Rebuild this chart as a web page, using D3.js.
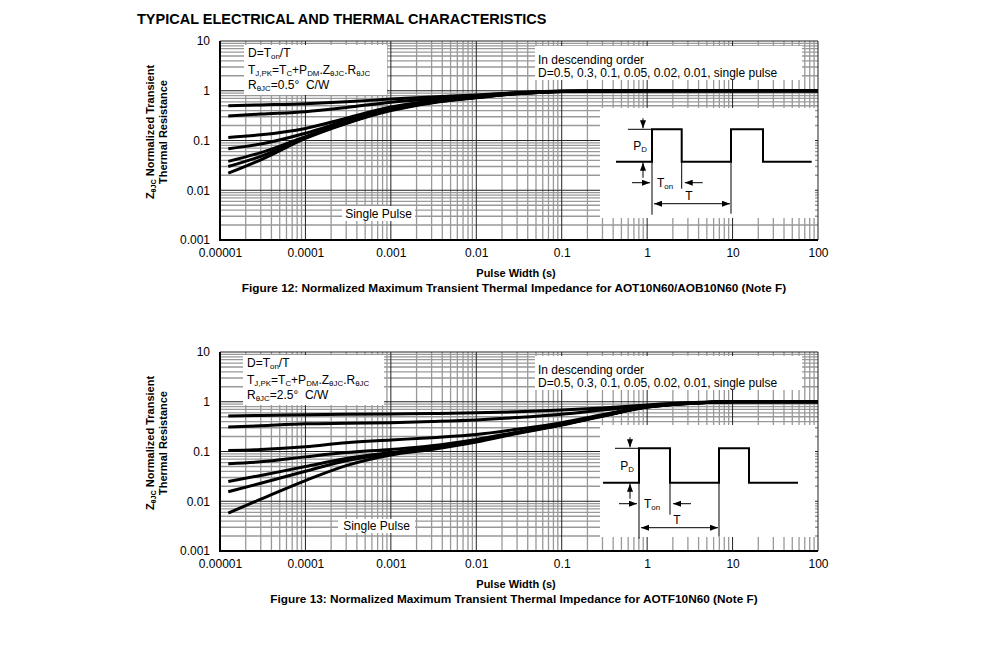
<!DOCTYPE html>
<html>
<head>
<meta charset="utf-8">
<script src="https://cdn.jsdelivr.net/npm/d3@7"></script>
<style>
  body { margin: 0; background: #fff; }
  svg text { font-family: "Liberation Sans", Arial, sans-serif; fill: #000; }
</style>
</head>
<body>
<svg id="chart" width="991" height="658"></svg>
<script>
// Duty cycles, in the order the curves are listed in the legend
const dutyCycles = ["0.5", "0.3", "0.1", "0.05", "0.02", "0.01", "single pulse"];

const timesAOT = [1.25e-5, 3e-5, 1e-4, 3e-4, 1e-3, 3e-3, 1e-2, 3e-2, 0.1, 1, 10, 100];
const timesAOTF = [1.25e-5, 3e-5, 1e-4, 3e-4, 1e-3, 3e-3, 1e-2, 3e-2, 0.1, 0.3, 1, 3, 10, 100];

// Figure 12: AOT10N60/AOB10N60, normalized Z thJC per duty cycle
const zAOT = [
  [0.50, 0.52, 0.55, 0.60, 0.68, 0.75, 0.82, 0.92, 0.99, 1.0, 1.0, 1.0],
  [0.31, 0.34, 0.38, 0.46, 0.59, 0.69, 0.79, 0.90, 0.98, 1.0, 1.0, 1.0],
  [0.115, 0.13, 0.175, 0.28, 0.47, 0.62, 0.76, 0.89, 0.98, 1.0, 1.0, 1.0],
  [0.068, 0.085, 0.14, 0.25, 0.44, 0.60, 0.75, 0.88, 0.97, 1.0, 1.0, 1.0],
  [0.038, 0.057, 0.12, 0.23, 0.42, 0.59, 0.74, 0.88, 0.97, 1.0, 1.0, 1.0],
  [0.030, 0.048, 0.115, 0.225, 0.41, 0.58, 0.73, 0.87, 0.97, 1.0, 1.0, 1.0],
  [0.022, 0.041, 0.11, 0.22, 0.40, 0.57, 0.72, 0.87, 0.97, 1.0, 1.0, 1.0]
];

// Figure 13: AOTF10N60
const zAOTF = [
  [0.52, 0.53, 0.55, 0.56, 0.57, 0.58, 0.60, 0.63, 0.68, 0.75, 0.86, 0.95, 1.0, 1.0],
  [0.31, 0.33, 0.36, 0.37, 0.38, 0.40, 0.43, 0.48, 0.56, 0.68, 0.84, 0.94, 1.0, 1.0],
  [0.105, 0.11, 0.125, 0.15, 0.17, 0.19, 0.22, 0.28, 0.38, 0.55, 0.80, 0.93, 1.0, 1.0],
  [0.057, 0.062, 0.078, 0.095, 0.11, 0.13, 0.175, 0.245, 0.355, 0.53, 0.79, 0.93, 1.0, 1.0],
  [0.025, 0.033, 0.05, 0.072, 0.095, 0.12, 0.165, 0.24, 0.35, 0.52, 0.78, 0.92, 1.0, 1.0],
  [0.0155, 0.023, 0.04, 0.065, 0.09, 0.115, 0.16, 0.235, 0.345, 0.52, 0.78, 0.92, 1.0, 1.0],
  [0.0058, 0.011, 0.026, 0.052, 0.085, 0.11, 0.155, 0.23, 0.34, 0.51, 0.78, 0.92, 1.0, 1.0]
];

// Tick labels
const xTickValues = [1e-5, 1e-4, 1e-3, 1e-2, 0.1, 1, 10, 100];
const xTickLabels = ["0.00001", "0.0001", "0.001", "0.01", "0.1", "1", "10", "100"];
const yTickValues = [0.001, 0.01, 0.1, 1, 10];
const yTickLabels = ["0.001", "0.01", "0.1", "1", "10"];

const svg = d3.select("#chart");
const defs = svg.append("defs");

// arrow heads
defs.append("marker")
  .attr("id", "arr")
  .attr("viewBox", "0 0 8 6")
  .attr("refX", 8).attr("refY", 3)
  .attr("markerWidth", 8).attr("markerHeight", 6)
  .attr("markerUnits", "userSpaceOnUse")
  .attr("orient", "auto")
  .append("path").attr("d", "M0,0L8,3L0,6Z").attr("fill", "#000");
defs.append("marker")
  .attr("id", "arrS")
  .attr("viewBox", "0 0 8 6")
  .attr("refX", 0).attr("refY", 3)
  .attr("markerWidth", 8).attr("markerHeight", 6)
  .attr("markerUnits", "userSpaceOnUse")
  .attr("orient", "auto")
  .append("path").attr("d", "M8,0L0,3L8,6Z").attr("fill", "#000");

// text with _{...} subscripts
function rich(textSel, str, fs, shift) {
  const sh = shift === undefined ? fs * 0.2 : shift;
  let shifted = false;
  str.split(/(_\{[^}]*\})/).filter(s => s).forEach(p => {
    const sub = p.startsWith("_{");
    const t = textSel.append("tspan").text(sub ? p.slice(2, -1) : p);
    if (sub) {
      t.attr("font-size", fs * 0.66);
      if (!shifted) t.attr("dy", sh);
      shifted = true;
    } else {
      t.attr("font-size", fs);
      if (shifted) t.attr("dy", -sh);
      shifted = false;
    }
  });
  return textSel;
}

svg.append("text")
  .attr("x", 137).attr("y", 24)
  .attr("font-size", 14.5).attr("font-weight", "bold")
  .text("TYPICAL ELECTRICAL AND THERMAL CHARACTERISTICS");

function drawPanel(cfg) {
  const left = 220, right = 818;
  const x = d3.scaleLog().domain([1e-5, 100]).range([left, right]);
  const y = d3.scaleLog().domain([0.001, 10]).range([cfg.bottom, cfg.top]);
  const g = svg.append("g");

  // grid: minor first, then decades
  const xt = x.ticks(), yt = y.ticks();
  const isMajor = v => Math.abs(Math.log10(v) - Math.round(Math.log10(v))) < 1e-6;
  [false, true].forEach(major => {
    g.selectAll(null).data(xt.filter(v => isMajor(v) === major)).enter().append("line")
      .attr("x1", d => x(d)).attr("x2", d => x(d))
      .attr("y1", cfg.top).attr("y2", cfg.bottom)
      .attr("stroke", major ? "#222" : "#999").attr("stroke-width", major ? 1 : 1.3);
    g.selectAll(null).data(yt.filter(v => isMajor(v) === major)).enter().append("line")
      .attr("y1", d => y(d)).attr("y2", d => y(d))
      .attr("x1", left).attr("x2", right)
      .attr("stroke", major ? "#222" : "#999").attr("stroke-width", major ? 1 : 1.3);
  });

  // white annotation boxes
  [cfg.box1, cfg.box2, cfg.single, cfg.inset].forEach(b => g.append("rect")
    .attr("x", b.x).attr("y", b.y).attr("width", b.w).attr("height", b.h).attr("fill", "#fff"));

  // tick labels
  g.append("g").attr("transform", `translate(0,${cfg.bottom})`)
    .call(d3.axisBottom(x).tickValues(xTickValues).tickSize(0).tickPadding(8)
      .tickFormat((d, i) => xTickLabels[i]))
    .call(a => a.select(".domain").remove())
    .selectAll("text").attr("font-size", 12).attr("font-family", null);
  g.append("g").attr("transform", `translate(${left},0)`)
    .call(d3.axisLeft(y).tickValues(yTickValues).tickSize(0).tickPadding(10)
      .tickFormat((d, i) => yTickLabels[i]))
    .call(a => a.select(".domain").remove())
    .selectAll("text").attr("font-size", 12).attr("font-family", null);

  // axis lines
  g.append("line").attr("x1", left).attr("x2", left).attr("y1", cfg.top).attr("y2", cfg.bottom + 1)
    .attr("stroke", "#000").attr("stroke-width", 2);
  g.append("line").attr("x1", left - 1).attr("x2", right).attr("y1", cfg.bottom).attr("y2", cfg.bottom)
    .attr("stroke", "#000").attr("stroke-width", 2);

  // curves
  const line = d3.line()
    .x((d, i) => x(cfg.times[i]))
    .y(d => y(d))
    .curve(d3.curveMonotoneX);
  g.selectAll(".curve").data(cfg.series).enter().append("path")
    .attr("class", "curve")
    .attr("d", d => line(d))
    .attr("fill", "none").attr("stroke", "#000").attr("stroke-width", 3);

  // legend text
  const b1 = cfg.box1;
  rich(g.append("text").attr("x", b1.x + 4).attr("y", b1.y + 12), "D=T_{on}/T", 12);
  rich(g.append("text").attr("x", b1.x + 4).attr("y", b1.y + 29),
    "T_{J,PK}=T_{C}+P_{DM}.Z_{θJC}.R_{θJC}", 12);
  rich(g.append("text").attr("x", b1.x + 4).attr("y", b1.y + 44),
    "R_{θJC}=" + cfg.rth + "°\u00a0 C/W", 12);
  const b2 = cfg.box2;
  g.append("text").attr("x", b2.x + 3).attr("y", b2.y + 18).attr("font-size", 12)
    .text("In descending order");
  g.append("text").attr("x", b2.x + 3).attr("y", b2.y + 31).attr("font-size", 12)
    .text("D=" + dutyCycles.join(", "));
  const s = cfg.single;
  g.append("text").attr("x", s.x + s.w / 2).attr("y", s.y + s.h / 2 + 4)
    .attr("text-anchor", "middle").attr("font-size", 12).text("Single Pulse");

  // pulse sketch in the inset
  const p = cfg.inset;
  const ig = g.append("g").attr("transform", `translate(${p.x},${p.y})`);
  const wave = [[p.x0, p.low], [p.r1, p.low], [p.r1, p.high], [p.f1, p.high], [p.f1, p.low],
    [p.r2, p.low], [p.r2, p.high], [p.f2, p.high], [p.f2, p.low], [p.end, p.low]];
  ig.append("path").attr("d", d3.line()(wave)).attr("fill", "none")
    .attr("stroke", "#000").attr("stroke-width", 2);
  const thin = (x1, y1, x2, y2, arrow) => ig.append("line")
    .attr("x1", x1).attr("y1", y1).attr("x2", x2).attr("y2", y2)
    .attr("stroke", "#000").attr("stroke-width", 1)
    .attr("marker-end", arrow ? "url(#arr)" : null);
  const ax = p.r1 - 9;
  thin(p.r1 - 24, p.high, p.r1, p.high);
  thin(ax, p.high - 11, ax, p.high - 1, true);
  thin(ax, p.low + 16, ax, p.low + 1, true);
  thin(p.r1, p.low, p.r1, p.low + p.vr1);
  thin(p.f1, p.low, p.f1, p.low + p.vf1);
  thin(p.r2, p.low, p.r2, p.low + p.vr2);
  thin(p.r1 - 20, p.low + p.ton, p.r1 - 2, p.low + p.ton, true);
  thin(p.f1 + 21, p.low + p.ton, p.f1 + 3, p.low + p.ton, true);
  thin(p.r1 + 2, p.low + p.tT, p.r2 - 1, p.low + p.tT, true).attr("marker-start", "url(#arrS)");
  rich(ig.append("text").attr("x", p.r1 - 5).attr("y", (p.high + p.low) / 2 + 4)
    .attr("text-anchor", "end"), "P_{D}", 12);
  rich(ig.append("text").attr("x", p.r1 + 5).attr("y", p.low + p.ton + 4), "T_{on}", 12);
  ig.append("text").attr("x", p.tx).attr("y", p.low + p.tT - 4)
    .attr("text-anchor", "middle").attr("font-size", 12).text("T");

  // axis titles
  const cy = cfg.top + 91;
  const yl = g.append("text").attr("transform", `translate(154,${cy}) rotate(-90)`)
    .attr("text-anchor", "middle").attr("font-weight", "bold");
  rich(yl, "Z_{θJC} Normalized Transient", 11, 1.5);
  g.append("text").attr("transform", `translate(167,${cy}) rotate(-90)`)
    .attr("text-anchor", "middle").attr("font-weight", "bold").attr("font-size", 11)
    .text("Thermal Resistance");
  g.append("text").attr("x", 516).attr("y", cfg.bottom + 37)
    .attr("text-anchor", "middle").attr("font-weight", "bold").attr("font-size", 11)
    .text("Pulse Width (s)");
  g.append("text").attr("x", 514).attr("y", cfg.bottom + 52)
    .attr("text-anchor", "middle").attr("font-weight", "bold").attr("font-size", 11.8)
    .text(cfg.caption);
}

drawPanel({
  top: 41, bottom: 240, times: timesAOT, series: zAOT, rth: "0.5",
  caption: "Figure 12: Normalized Maximum Transient Thermal Impedance for AOT10N60/AOB10N60 (Note F)",
  box1: { x: 244, y: 45, w: 143, h: 50 },
  box2: { x: 535, y: 46, w: 267, h: 34 },
  single: { x: 342, y: 206, w: 73, h: 15 },
  inset: { x: 600, y: 108, w: 215, h: 110, x0: 16, r1: 52, f1: 81.7, r2: 131, f2: 163, end: 211.7,
    low: 53.7, high: 21.3, vr1: 53, vf1: 27, vr2: 52, ton: 21, tT: 42, tx: 89 }
});

drawPanel({
  top: 352, bottom: 551, times: timesAOTF, series: zAOTF, rth: "2.5",
  caption: "Figure 13: Normalized Maximum Transient Thermal Impedance for AOTF10N60 (Note F)",
  box1: { x: 243, y: 355, w: 141, h: 50 },
  box2: { x: 535, y: 356, w: 267, h: 34 },
  single: { x: 338, y: 519, w: 77, h: 14 },
  inset: { x: 600, y: 425, w: 215, h: 112, x0: 3, r1: 39, f1: 70, r2: 119, f2: 149, end: 198,
    low: 57.7, high: 23.3, vr1: 56, vf1: 32, vr2: 54, ton: 21, tT: 45, tx: 77 }
});
</script>
</body>
</html>
